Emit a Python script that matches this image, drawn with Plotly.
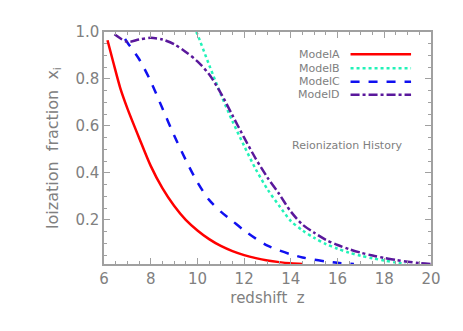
import plotly.graph_objects as go

# ── Data ──────────────────────────────────────────────────────────────────────
z_a = [6.15, 6.4, 6.7, 7.0, 7.5, 8.0, 8.5, 9.0, 9.5, 10.0, 10.5, 11.0, 11.5, 12.0, 12.5, 13.0, 13.5, 14.0, 14.5]
x_a = [0.965, 0.87, 0.76, 0.675, 0.55, 0.43, 0.335, 0.26, 0.2, 0.155, 0.118, 0.089, 0.067, 0.05, 0.037, 0.027, 0.02, 0.015, 0.012]

z_b = [9.95, 10.0, 10.5, 11.0, 11.5, 12.0, 12.5, 13.0, 13.5, 14.0, 14.5, 15.0, 15.5, 16.0, 16.5, 17.0, 17.5, 18.0, 18.5, 18.9]
x_b = [1.0, 0.99, 0.86, 0.735, 0.62, 0.515, 0.415, 0.33, 0.26, 0.195, 0.155, 0.123, 0.097, 0.077, 0.06, 0.047, 0.036, 0.027, 0.018, 0.013]

z_c = [6.9, 7.0, 7.5, 8.0, 8.5, 9.0, 9.5, 10.0, 10.5, 11.0, 11.5, 12.0, 12.5, 13.0, 13.5, 14.0, 14.5, 15.0, 15.5, 16.0, 16.7]
x_c = [0.97, 0.955, 0.885, 0.79, 0.675, 0.56, 0.455, 0.36, 0.285, 0.235, 0.195, 0.155, 0.12, 0.09, 0.07, 0.053, 0.04, 0.03, 0.023, 0.017, 0.012]

z_d = [6.45, 7.0, 7.5, 8.0, 8.5, 9.0, 9.5, 10.0, 10.5, 11.0, 11.5, 12.0, 12.5, 13.0, 13.5, 14.0,
       14.5, 15.0, 15.5, 16.0, 16.5, 17.0, 17.5, 18.0, 18.5, 19.0, 19.5, 20.0]
x_d = [0.99, 0.958, 0.968, 0.975, 0.968, 0.948, 0.915, 0.875, 0.82, 0.74, 0.645, 0.55, 0.46, 0.38, 0.31, 0.235,
       0.18, 0.145, 0.115, 0.093, 0.075, 0.06, 0.048, 0.038, 0.029, 0.022, 0.016, 0.012]

y_ticks = [0.2, 0.4, 0.6, 0.8, 1.0]

# ── Styles ────────────────────────────────────────────────────────────────────
RED = "#FF0000"
MINT = "#22F2B8"
BLUE = "#1010F0"
PURPLE = "#5A189C"
TXT = "#808080"
AXIS = "#A0A0A0"
FONT = "DejaVu Sans"

series = [
    ("ModelA", z_a, x_a, RED, "solid"),
    ("ModelB", z_b, x_b, MINT, "dot"),
    ("ModelC", z_c, x_c, BLUE, "dash"),
    ("ModelD", z_d, x_d, PURPLE, "dashdot"),
]

fig = go.Figure()
for name, zs, xs, color, dash in series:
    fig.add_trace(go.Scatter(
        x=zs, y=xs, mode="lines", name=name,
        line=dict(color=color, width=2.5, dash=dash, shape="spline", smoothing=0.8),
        showlegend=False,
    ))

# ── Legend drawn IDL-style: label on the left, line sample on the right ─────
leg_y = [0.904, 0.844, 0.786, 0.729]
for (name, _, _, color, dash), ly in zip(series, leg_y):
    fig.add_annotation(
        x=0.728, y=ly, xref="paper", yref="paper", text=name, showarrow=False,
        xanchor="right", yanchor="middle", font=dict(family=FONT, size=11, color=TXT),
    )
    fig.add_shape(
        type="line", xref="paper", yref="paper", x0=0.754, x1=0.939, y0=ly, y1=ly,
        line=dict(color=color, width=2.5, dash=dash),
    )

fig.add_annotation(
    x=0.743, y=0.51, xref="paper", yref="paper", text="Reionization History",
    showarrow=False, xanchor="center", yanchor="middle",
    font=dict(family=FONT, size=11, color=TXT),
)

axis_common = dict(
    showline=True, linecolor=AXIS, linewidth=1.5, mirror="allticks",
    ticks="inside", ticklen=6, tickcolor=AXIS, tickwidth=1,
    showgrid=False, zeroline=False, automargin=False,
    tickfont=dict(family=FONT, size=15, color=TXT),
)

# the page body adds an 8px offset, so margins are shifted to compensate
fig.update_layout(
    width=463, height=331,
    margin=dict(l=96, r=40, t=24, b=75),
    paper_bgcolor="white", plot_bgcolor="white",
    xaxis=dict(
        **axis_common, range=[6, 20], tick0=6, dtick=2,
        minor=dict(dtick=0.5, ticks="inside", ticklen=3, tickcolor=AXIS),
        title=dict(text="redshift  z", font=dict(family=FONT, size=15, color=TXT), standoff=6),
    ),
    yaxis=dict(
        **axis_common, range=[0.012, 1.0], tickvals=y_ticks, tickformat=".1f",
        minor=dict(dtick=0.05, tick0=0, ticks="inside", ticklen=3, tickcolor=AXIS),
        title=dict(text="loization  fraction  x<sub>i</sub>", font=dict(family=FONT, size=16, color=TXT), standoff=13),
    ),
)

fig.write_html("out.html")
